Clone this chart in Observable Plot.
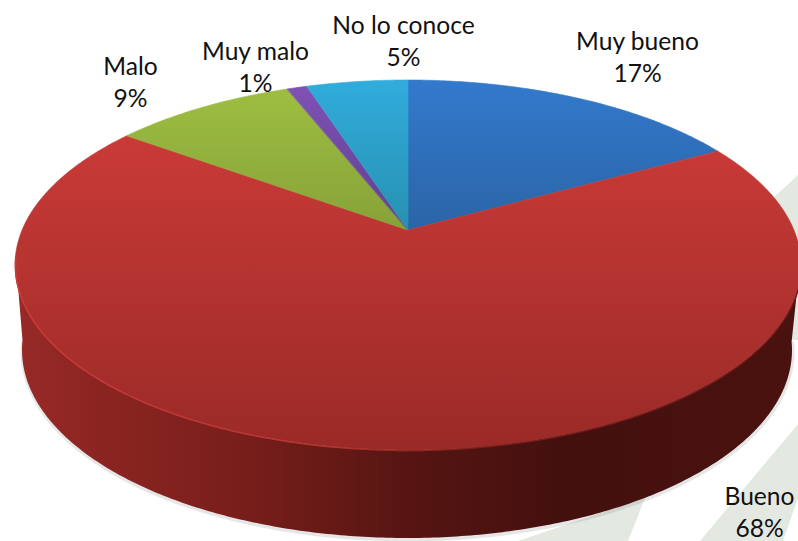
<!DOCTYPE html>
<html>
<head>
<meta charset="utf-8">
<script src="https://cdn.jsdelivr.net/npm/d3@7"></script>
<script src="https://cdn.jsdelivr.net/npm/@observablehq/plot@0.6"></script>
<style>
html,body{margin:0;padding:0;background:#fff;overflow:hidden}
svg{display:block}
</style>
</head>
<body>
<div id="chart"></div>
<script>
// Data
const categories = ["Muy bueno", "Bueno", "Malo", "Muy malo", "No lo conoce"];
const values = [17, 68, 9, 1, 5];
const gradients = ["gBlue", "gRed", "gGreen", "gPurple", "gCyan"];
const labelX = [637, 759, 130, 255, 403];
const labelY = [55, 510, 80, 65, 39];

// Pale diagonal watermark behind the pie
const watermarkShapes = [
  [[518, 541], [645, 498], [628, 541]],
  [[700, 541], [798, 424], [798, 498], [783, 541]],
  [[745, 224], [798, 175], [798, 340], [745, 340]]
];

// Perspective disc: the top face ellipse, the apex offset, and the lower rim ellipse
const W = 798, H = 541;
const top_ = {cx: 408, cy: 265, rx: 393, ry: 185};
const base = {cx: 407, cy: 350, rx: 385, ry: 188};
const tilt = -0.189;
const squeeze = Math.sqrt(1 - tilt * tilt);
const project = (theta, e) => {
  const s = Math.sin(theta), c = Math.cos(theta), d = 1 - tilt * c;
  return [e.cx + e.rx * s * squeeze / d, e.cy + e.ry * (tilt - c) / d];
};
const apex = [top_.cx, top_.cy + top_.ry * tilt];

const slices = d3.pie().sort(null)(values);
const sample = (a0, a1) => {
  const n = Math.max(2, Math.ceil((a1 - a0) / 0.01));
  return d3.range(n + 1).map(i => a0 + (a1 - a0) * i / n);
};
const wedge = sl => sample(sl.startAngle, sl.endAngle).map(t => {
  const p = project(t, top_);
  return {x1: apex[0], y1: apex[1], x2: p[0], y2: p[1]};
});
const redSlice = slices[1];
const rim = sample(redSlice.startAngle, redSlice.endAngle).map(t => {
  const a = project(t, top_), b = project(t, base);
  return {x1: a[0], y1: a[1], x2: b[0], y2: b[1]};
});
const visibleRim = rim.filter(d => d.y1 > top_.cy - 10);

const defs = () => d3.create("svg:defs").html(`
  ${[["gBlue","#3379cc","#2a64a6"],["gRed","#c93a37","#9a2a27"],["gGreen","#9fbf42","#86a238"],
     ["gPurple","#8052b6","#5f3f8e"],["gCyan","#31acdc","#2790b0"]].map(([id,a,b]) =>
     `<linearGradient id="${id}" gradientUnits="userSpaceOnUse" x1="0" y1="${id==="gRed"?140:81}" x2="0" y2="${id==="gRed"?450:232}">
        <stop offset="0" stop-color="${a}"/><stop offset="1" stop-color="${b}"/></linearGradient>`).join("")}
  <linearGradient id="gSide" gradientUnits="userSpaceOnUse" x1="14" y1="0" x2="798" y2="0">
    <stop offset="0" stop-color="#982a28"/><stop offset="0.12" stop-color="#8a2421"/>
    <stop offset="0.28" stop-color="#7a1f1b"/><stop offset="0.5" stop-color="#571512"/>
    <stop offset="0.7" stop-color="#43100e"/><stop offset="1" stop-color="#4a120f"/>
  </linearGradient>
  <linearGradient id="gEdge" gradientUnits="userSpaceOnUse" x1="14" y1="0" x2="798" y2="0">
    <stop offset="0" stop-color="#cf3a38"/><stop offset="0.4" stop-color="#b23330"/>
    <stop offset="0.6" stop-color="#7a1f1b"/><stop offset="1" stop-color="#6b1a18"/>
  </linearGradient>
`).node();

const plot = Plot.plot({
  width: W,
  height: H,
  margin: 0,
  style: {background: "#fff", fontFamily: "Lato, sans-serif"},
  x: {domain: [0, W], range: [0, W], axis: null},
  y: {domain: [0, H], range: [0, H], axis: null},
  marks: [
    defs,
    ...watermarkShapes.map(shape => Plot.area(shape, {
      x1: d => d[0], y1: d => d[1], x2: shape[0][0], y2: shape[0][1],
      fill: "#e3e8e1", curve: "linear"
    })),
    Plot.line(visibleRim, {x: "x2", y: d => d.y2 + 1, stroke: "#8a8f8a", strokeWidth: 4, strokeOpacity: 0.22}),
    Plot.area(visibleRim, {x1: "x1", y1: "y1", x2: "x2", y2: "y2", fill: "url(#gSide)"}),
    ...slices.map((sl, i) => Plot.area(wedge(sl), {
      x1: "x1", y1: "y1", x2: "x2", y2: "y2", fill: `url(#${gradients[i]})`,
      stroke: `url(#${gradients[i]})`, strokeWidth: 0.6
    })),
    Plot.line(visibleRim, {x: "x1", y: "y1", stroke: "url(#gEdge)", strokeWidth: 1.5}),
    Plot.text(categories, {
      x: (d, i) => labelX[i],
      y: (d, i) => labelY[i],
      text: (d, i) => `${d}\n${values[i]}%`,
      lineHeight: 1.33,
      fontSize: 24.6,
      fill: "#111",
      textAnchor: "middle"
    })
  ]
});
document.getElementById("chart").append(plot);
</script>
</body>
</html>
